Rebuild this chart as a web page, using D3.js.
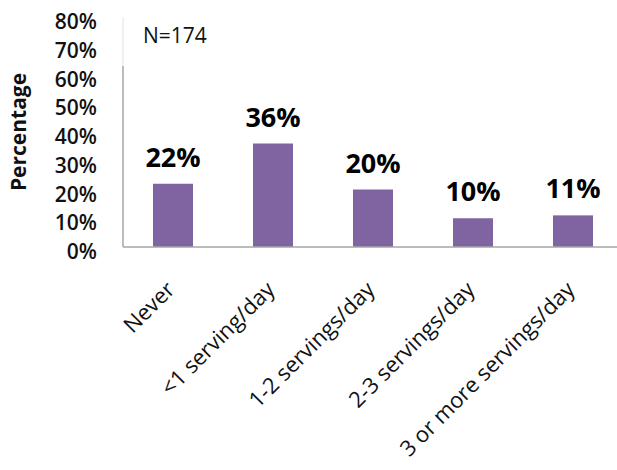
<!DOCTYPE html>
<html lang="en">
<head>
  <meta charset="UTF-8" />
  <title>Servings per day</title>
  <script src="https://d3js.org/d3.v7.min.js"></script>
  <style>
    body { margin: 0; background: #fff; font-family: "Open Sans", sans-serif; }
    svg { display: block; }
  </style>
</head>
<body>
  <div id="chart"></div>
  <script>
    // Dados
    const categories = ["Never", "<1 serving/day", "1-2 servings/day", "2-3 servings/day", "3 or more servings/day"];
    const percents = [22, 36, 20, 10, 11];
    const yTicks = [0, 10, 20, 30, 40, 50, 60, 70, 80];
    const sampleNote = "N=174";

    const width = 617, height = 470;
    const plot = { left: 123, right: 623, top: 17, bottom: 247 };

    const svg = d3.select("#chart").append("svg")
      .attr("width", width)
      .attr("height", height);

    const x = d3.scaleBand()
      .domain(categories)
      .range([plot.left, plot.right])
      .paddingInner(0.6)
      .paddingOuter(0.3);

    const y = d3.scaleLinear()
      .domain([0, 80])
      .range([plot.bottom, plot.top]);

    // Eixo Y (só rótulos)
    const yAxis = svg.append("g")
      .attr("transform", `translate(${plot.left - 26}, 5)`)
      .call(d3.axisLeft(y).tickValues(yTicks).tickFormat(d => d + "%").tickSize(0));
    yAxis.select(".domain").remove();
    yAxis.selectAll("text")
      .attr("x", 0)
      .style("font-family", "'Open Sans', sans-serif")
      .style("font-size", "21px")
      .style("font-weight", "600")
      .attr("fill", "#111");

    // linha vertical do eixo
    svg.append("line")
      .attr("x1", plot.left).attr("x2", plot.left)
      .attr("y1", y(80)).attr("y2", 66)
      .attr("stroke", "#e2e2e2");
    svg.append("line")
      .attr("x1", plot.left).attr("x2", plot.left)
      .attr("y1", 66).attr("y2", plot.bottom)
      .attr("stroke", "#a6a6a6")
      .attr("stroke-width", 1.5);

    // Barras
    svg.selectAll("rect.bar")
      .data(percents)
      .join("rect")
      .attr("class", "bar")
      .attr("x", (d, i) => x(categories[i]))
      .attr("y", d => y(d))
      .attr("width", x.bandwidth())
      .attr("height", d => y(0) - y(d))
      .attr("fill", "#8064a2");

    // Eixo X
    svg.append("line")
      .attr("x1", plot.left).attr("x2", width)
      .attr("y1", plot.bottom).attr("y2", plot.bottom)
      .attr("stroke", "#a6a6a6")
      .attr("stroke-width", 1.5);

    // Rótulos de dados
    svg.selectAll("text.val")
      .data(percents)
      .join("text")
      .attr("class", "val")
      .attr("x", (d, i) => x(categories[i]) + x.bandwidth() / 2)
      .attr("y", d => y(d) - 17)
      .attr("text-anchor", "middle")
      .style("font-size", "27px")
      .style("font-weight", "bold")
      .attr("fill", "#000")
      .text(d => d + "%");

    // Rótulos das categorias
    svg.selectAll("text.cat")
      .data(categories)
      .join("text")
      .attr("class", "cat")
      .attr("transform", d => `translate(${x(d) + x.bandwidth() / 2 + 3}, 291) rotate(-45)`)
      .attr("text-anchor", "end")
      .style("font-size", "22px")
      .attr("fill", "#111")
      .text(d => d);

    // Título do eixo Y
    svg.append("text")
      .attr("transform", `translate(26, 132) rotate(-90)`)
      .attr("text-anchor", "middle")
      .style("font-size", "21px")
      .style("font-weight", "bold")
      .attr("fill", "#111")
      .text("Percentage");

    // Nota N
    svg.append("text")
      .attr("x", 143)
      .attr("y", 43)
      .style("font-size", "21px")
      .attr("fill", "#111")
      .text(sampleNote);
  </script>
</body>
</html>
